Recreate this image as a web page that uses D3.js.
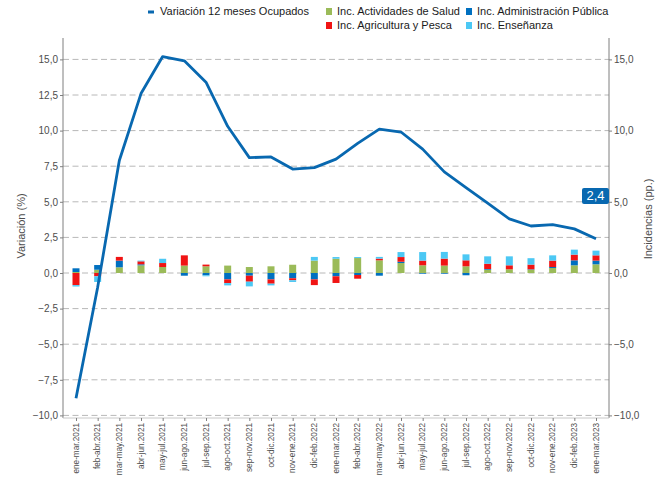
<!DOCTYPE html>
<html><head><meta charset="utf-8">
<script src="https://cdn.jsdelivr.net/npm/d3@7"></script>
<style>body{margin:0;background:#fff}svg{display:block;font-family:"Liberation Sans",Arial,sans-serif}</style>
</head><body>
<svg id="c" width="670" height="477"></svg>
<script>
const categories = ["ene-mar.2021","feb-abr.2021","mar-may.2021","abr-jun.2021","may-jul.2021","jun-ago.2021","jul-sep.2021","ago-oct.2021","sep-nov.2021","oct-dic.2021","nov-ene.2021","dic-feb.2022","ene-mar.2022","feb-abr.2022","mar-may.2022","abr-jun.2022","may-jul.2022","jun-ago.2022","jul-sep.2022","ago-oct.2022","sep-nov.2022","oct-dic.2022","nov-ene.2022","dic-feb.2023","ene-mar.2023"];
const variacion = [-8.8,-1.0,7.9,12.6,15.2,14.9,13.4,10.3,8.1,8.15,7.3,7.4,8.0,9.1,10.1,9.9,8.7,7.1,6.0,4.9,3.8,3.3,3.4,3.1,2.4];
const salud = [0.07,0.23,0.4,0.54,0.42,0.52,0.47,0.52,0.42,0.47,0.58,0.87,1.0,1.05,0.89,0.7,0.54,0.52,0.47,0.23,0.26,0.23,0.35,0.54,0.61];
const admin = [0.26,0.33,0.47,0.07,0.0,-0.19,-0.16,-0.45,-0.19,-0.45,-0.37,-0.45,-0.23,-0.14,-0.19,0.09,-0.05,-0.05,-0.16,0.05,0.0,0.03,0.07,0.35,0.26];
const agri = [-0.85,-0.23,0.26,0.21,0.28,0.72,0.12,-0.26,-0.42,-0.3,-0.14,-0.4,-0.47,-0.26,0.12,0.33,0.33,0.49,0.42,0.37,0.28,0.33,0.45,0.4,0.37];
const ense = [-0.1,-0.4,0.0,0.05,0.3,0.0,-0.07,-0.16,-0.33,-0.12,-0.12,0.26,0.12,0.07,0.12,0.35,0.6,0.47,0.42,0.52,0.63,0.45,0.37,0.35,0.33];
const leftTicks = [-10,-7.5,-5,-2.5,0,2.5,5,7.5,10,12.5,15];
const rightTicks = [-10,-5,0,5,10,15];
const seriesNames = ["Inc. Actividades de Salud","Inc. Administración Pública","Inc. Agricultura y Pesca","Inc. Enseñanza"];
const seriesColors = ["#9bbb59","#0070c0","#f01414","#4cc8f4"];
const lineName = "Variación 12 meses Ocupados";
const lineColor = "#0868b0";
const lastLabel = "2,4";

const svg = d3.select("#c");
const L = 63, R = 609, T = 38, B = 418;
const x = d3.scalePoint().domain(categories).range([L, R]).padding(0.6);
const y = d3.scaleLinear().domain([-10, 15]).range([415.4, 59.4]);
const fmt = v => d3.format(".1f")(v).replace(".", ",");

// grid
svg.append("g").selectAll("line").data(leftTicks).join("line")
  .attr("x1", L).attr("x2", R).attr("y1", d => y(d)).attr("y2", d => y(d))
  .attr("stroke", "#b8b8b8").attr("stroke-width", 1).attr("stroke-dasharray", "6,3.5");

// left axis
const ga = svg.append("g").attr("transform", `translate(${L},0)`)
  .call(d3.axisLeft(y).tickValues(leftTicks).tickFormat(fmt).tickSize(3).tickPadding(2));
ga.select(".domain").remove();
ga.append("line").attr("x1",0).attr("x2",0).attr("y1",T).attr("y2",B).attr("stroke","#7f7f7f");
ga.selectAll(".tick line").attr("stroke","#7f7f7f");
ga.selectAll(".tick text").attr("fill","#4d4d4d").attr("font-size","10px").attr("font-family","Liberation Sans, Arial, sans-serif");

// right axis
const gr = svg.append("g").attr("transform", `translate(${R},0)`)
  .call(d3.axisRight(y).tickValues(rightTicks).tickFormat(fmt).tickSize(3).tickPadding(2));
gr.select(".domain").remove();
gr.append("line").attr("x1",0).attr("x2",0).attr("y1",T).attr("y2",B).attr("stroke","#7f7f7f");
gr.selectAll(".tick line").attr("stroke","#7f7f7f");
gr.selectAll(".tick text").attr("fill","#4d4d4d").attr("font-size","10px").attr("font-family","Liberation Sans, Arial, sans-serif");

// bottom axis
const gb = svg.append("g").attr("transform", `translate(0,${B})`)
  .call(d3.axisBottom(x).tickSize(3).tickPadding(3));
gb.select(".domain").attr("stroke","#c8c8c8").attr("d", `M${L},0H${R}`);
gb.selectAll(".tick line").attr("stroke","#7f7f7f");
gb.selectAll(".tick text").attr("fill","#4d4d4d").attr("font-size","8.2px").attr("font-family","Liberation Sans, Arial, sans-serif")
  .attr("transform","rotate(-90)").attr("text-anchor","end").attr("dx",0).attr("dy",0).attr("x",-5).attr("y",0)
  .attr("dominant-baseline","middle");

// stacked bars
const rows = categories.map((c, i) => ({cat: c, s0: salud[i], s1: admin[i], s2: agri[i], s3: ense[i]}));
const stack = d3.stack().keys(["s0","s1","s2","s3"]).offset(d3.stackOffsetDiverging);
const stacked = stack(rows);
const bw = 7;
svg.append("g").selectAll("g").data(stacked).join("g").attr("fill", (d, i) => seriesColors[i])
  .selectAll("rect").data(d => d).join("rect")
  .attr("x", d => x(d.data.cat) - bw / 2).attr("width", bw)
  .attr("y", d => y(Math.max(d[0], d[1]))).attr("height", d => Math.abs(y(d[0]) - y(d[1])));

// line
svg.append("path").datum(variacion)
  .attr("fill","none").attr("stroke", lineColor).attr("stroke-width", 2.8).attr("stroke-linejoin","round")
  .attr("d", d3.line().x((d, i) => x(categories[i])).y(d => y(d)));

// last value label
const lx = x(categories[categories.length - 1]), ly = y(variacion[variacion.length - 1] + 3);
svg.append("rect").attr("x", lx - 14).attr("y", ly - 8).attr("width", 27).attr("height", 16).attr("rx", 2)
  .attr("fill", lineColor);
svg.append("text").attr("x", lx - 0.5).attr("y", ly + 0.5).attr("text-anchor","middle").attr("dominant-baseline","middle")
  .attr("fill","#fff").attr("font-size","13px").text(lastLabel);

// axis titles
svg.append("text").attr("transform","translate(25,226) rotate(-90)").attr("text-anchor","middle")
  .attr("fill","#4d4d4d").attr("font-size","11px").text("Variación (%)");
svg.append("text").attr("transform","translate(652,219) rotate(-90)").attr("text-anchor","middle")
  .attr("fill","#4d4d4d").attr("font-size","11px").text("Incidencias (pp.)");

// legend
const lg = svg.append("g").attr("font-size","11px").attr("fill","#1a1a1a");
lg.append("rect").attr("x",148).attr("y",10.5).attr("width",6).attr("height",3).attr("fill",lineColor);
lg.append("text").attr("x",160).attr("y",12).attr("dominant-baseline","middle").text(lineName);
const lpos = [[326,12],[466,12],[326,26],[466,26]];
seriesNames.forEach((n, i) => {
  lg.append("rect").attr("x", lpos[i][0]).attr("y", lpos[i][1] - 4).attr("width", 6).attr("height", 7).attr("fill", seriesColors[i]);
  lg.append("text").attr("x", lpos[i][0] + 11).attr("y", lpos[i][1]).attr("dominant-baseline","middle").text(n);
});
</script>
</body></html>
